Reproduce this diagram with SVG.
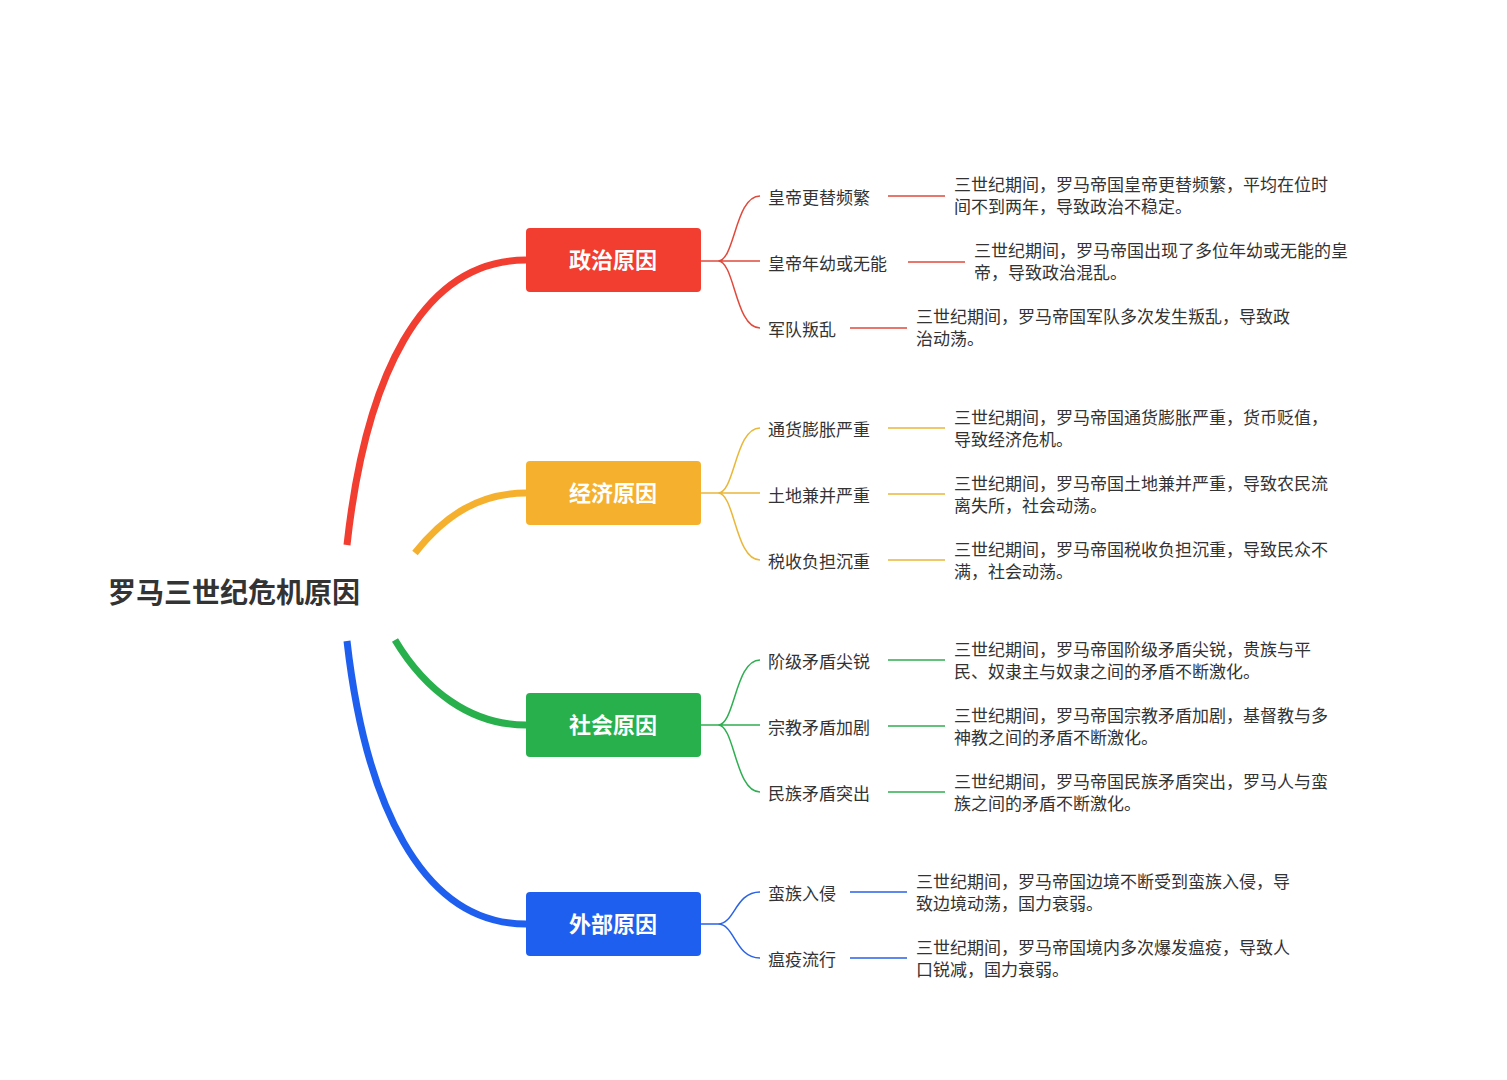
<svg xmlns="http://www.w3.org/2000/svg" width="1507" height="1080" viewBox="0 0 1507 1080">
<style>
text{font-family:"Noto Sans CJK SC","Noto Sans",sans-serif;fill:#333}
.root{font-size:28px;font-weight:bold}
.main{font-size:22px;font-weight:bold;fill:#fff}
.c{font-size:17px;dominant-baseline:central}
.d{font-size:17px}
.th{fill:none;stroke-width:7}
.tn{fill:none;stroke-width:1.5}
</style>
<rect width="1507" height="1080" fill="#fff"/>
<g id="connectors">
<path class="th" stroke="#f23d31" d="M347,545 C365,380 420,260 526,260"/>
<path class="th" stroke="#f5b12d" d="M415,553 C445,515 480,493 526,493"/>
<path class="th" stroke="#27b04c" d="M395,640 C425,690 470,725 526,725"/>
<path class="th" stroke="#1f5fef" d="M347,641 C365,800 420,924 526,924"/>
<g stroke="#e04a3c" class="tn">
<path d="M701,261 H718 M718,261 C735,261 735,196 760,196 M718,261 H760 M718,261 C735,261 735,328 760,328"/>
<path d="M888,196 H945 M908,262 H965 M850,328 H907"/>
</g>
<g stroke="#e9b73a" class="tn">
<path d="M701,493 H718 M718,493 C735,493 735,428 760,428 M718,493 H760 M718,493 C735,493 735,560 760,560"/>
<path d="M888,428 H945 M888,494 H945 M888,560 H945"/>
</g>
<g stroke="#2fae52" class="tn">
<path d="M701,725 H718 M718,725 C735,725 735,660 760,660 M718,725 H760 M718,725 C735,725 735,792 760,792"/>
<path d="M888,660 H945 M888,726 H945 M888,792 H945"/>
</g>
<g stroke="#2a62e8" class="tn">
<path d="M701,924 H718 M718,924 C735,924 735,892 760,892 M718,924 C735,924 735,958 760,958"/>
<path d="M850,892 H907 M850,958 H907"/>
</g>
</g>
<g id="root"><text class="root" x="108" y="603">罗马三世纪危机原因</text></g>
<g id="politics"><rect x="526" y="228" width="175" height="64" rx="4" fill="#f23d31"/><text class="main" x="613" y="268" text-anchor="middle">政治原因</text></g>
<g id="economy"><rect x="526" y="461" width="175" height="64" rx="4" fill="#f5b12d"/><text class="main" x="613" y="501" text-anchor="middle">经济原因</text></g>
<g id="society"><rect x="526" y="693" width="175" height="64" rx="4" fill="#27b04c"/><text class="main" x="613" y="733" text-anchor="middle">社会原因</text></g>
<g id="external"><rect x="526" y="892" width="175" height="64" rx="4" fill="#1f5fef"/><text class="main" x="613" y="932" text-anchor="middle">外部原因</text></g>
<g id="p1"><text class="c" x="768" y="196">皇帝更替频繁</text><text class="d" x="954" y="191">三世纪期间，罗马帝国皇帝更替频繁，平均在位时</text><text class="d" x="954" y="213">间不到两年，导致政治不稳定。</text></g>
<g id="p2"><text class="c" x="768" y="262">皇帝年幼或无能</text><text class="d" x="974" y="257">三世纪期间，罗马帝国出现了多位年幼或无能的皇</text><text class="d" x="974" y="279">帝，导致政治混乱。</text></g>
<g id="p3"><text class="c" x="768" y="328">军队叛乱</text><text class="d" x="916" y="323">三世纪期间，罗马帝国军队多次发生叛乱，导致政</text><text class="d" x="916" y="345">治动荡。</text></g>
<g id="e1"><text class="c" x="768" y="428">通货膨胀严重</text><text class="d" x="954" y="424">三世纪期间，罗马帝国通货膨胀严重，货币贬值，</text><text class="d" x="954" y="446">导致经济危机。</text></g>
<g id="e2"><text class="c" x="768" y="494">土地兼并严重</text><text class="d" x="954" y="490">三世纪期间，罗马帝国土地兼并严重，导致农民流</text><text class="d" x="954" y="512">离失所，社会动荡。</text></g>
<g id="e3"><text class="c" x="768" y="560">税收负担沉重</text><text class="d" x="954" y="556">三世纪期间，罗马帝国税收负担沉重，导致民众不</text><text class="d" x="954" y="578">满，社会动荡。</text></g>
<g id="s1"><text class="c" x="768" y="660">阶级矛盾尖锐</text><text class="d" x="954" y="656">三世纪期间，罗马帝国阶级矛盾尖锐，贵族与平</text><text class="d" x="954" y="678">民、奴隶主与奴隶之间的矛盾不断激化。</text></g>
<g id="s2"><text class="c" x="768" y="726">宗教矛盾加剧</text><text class="d" x="954" y="722">三世纪期间，罗马帝国宗教矛盾加剧，基督教与多</text><text class="d" x="954" y="744">神教之间的矛盾不断激化。</text></g>
<g id="s3"><text class="c" x="768" y="792">民族矛盾突出</text><text class="d" x="954" y="788">三世纪期间，罗马帝国民族矛盾突出，罗马人与蛮</text><text class="d" x="954" y="810">族之间的矛盾不断激化。</text></g>
<g id="x1"><text class="c" x="768" y="892">蛮族入侵</text><text class="d" x="916" y="888">三世纪期间，罗马帝国边境不断受到蛮族入侵，导</text><text class="d" x="916" y="910">致边境动荡，国力衰弱。</text></g>
<g id="x2"><text class="c" x="768" y="958">瘟疫流行</text><text class="d" x="916" y="954">三世纪期间，罗马帝国境内多次爆发瘟疫，导致人</text><text class="d" x="916" y="976">口锐减，国力衰弱。</text></g>
</svg>
